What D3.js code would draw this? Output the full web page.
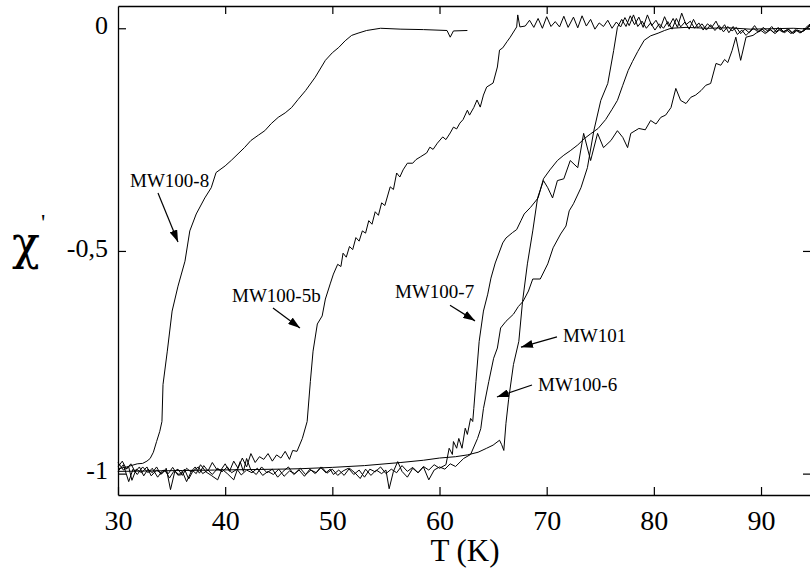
<!DOCTYPE html>
<html>
<head>
<meta charset="utf-8">
<script src="https://cdn.jsdelivr.net/npm/d3@7"></script>
<style>
  html, body { margin: 0; padding: 0; background: #fff; }
  svg { display: block; }
  text { font-family: "Liberation Serif", "Times New Roman", serif; fill: #000; }
</style>
</head>
<body>
<svg id="chart" width="810" height="570"></svg>
<script>
// ---------- data ----------
const xTicks = [30, 40, 50, 60, 70, 80, 90];
const yTicks = [0, -0.5, -1];
const yTickLabels = ["0", "-0,5", "-1"];
const xTitle = "T (K)";
const yTitle = "χ";

const mw100_8 = [
  [30.0,-0.989],[30.8,-0.985],[31.8,-0.978],[32.3,-0.977],[32.7,-0.972],[33.0,-0.966],[33.3,-0.952],
  [33.6,-0.928],[33.9,-0.905],[34.1,-0.883],[34.2,-0.800],[34.6,-0.725],[35.05,-0.635],[35.6,-0.579],
  [36.25,-0.523],[36.7,-0.455],[37.3,-0.417],[38.1,-0.381],[38.7,-0.358],[39.15,-0.324],[40.0,-0.309],
  [40.6,-0.296],[41.2,-0.282],[41.8,-0.268],[42.4,-0.252],[43.1,-0.240],[43.7,-0.230],[44.3,-0.214],
  [44.95,-0.200],[45.6,-0.190],[46.2,-0.178],[46.8,-0.160],[47.5,-0.140],[48.4,-0.110],[49.35,-0.072],
  [50.0,-0.055],[50.6,-0.043],[51.2,-0.028],[51.8,-0.016],[52.4,-0.011],[53.2,-0.005],[54.5,0.0],
  [56.4,-0.002],[58.5,-0.003],[60.7,-0.005],[61.0,-0.020],[61.3,-0.006],[62.6,-0.005]
];

const mw100_5b = [
  [30.0,-0.985],[30.4,-0.972],[30.8,-0.990],[31.2,-0.978],[31.6,-0.996],[32.0,-0.985],[32.4,-1.005],
  [32.8,-0.990],[33.2,-0.998],[33.6,-0.985],[34.0,-1.002],[34.4,-0.992],[34.8,-1.010],[35.2,-0.995],
  [35.6,-0.990],[36.0,-1.004],[36.4,-0.988],[36.8,-0.996],[37.2,-0.985],[37.6,-0.999],[38.0,-0.982],
  [38.4,-0.994],[38.8,-0.975],[39.2,-0.990],[39.6,-0.992],[40.0,-0.978],[40.4,-0.995],[40.8,-0.972],
  [41.2,-0.988],[41.6,-0.965],[42.0,-0.985],[42.4,-0.955],[42.8,-0.975],[43.2,-0.962],[43.6,-0.968],
  [44.0,-0.955],[44.4,-0.972],[44.8,-0.958],[45.2,-0.965],[45.6,-0.950],[46.0,-0.968],[46.3,-0.948],
  [46.7,-0.950],[47.2,-0.921],[47.65,-0.883],[47.95,-0.793],[48.2,-0.725],[48.6,-0.664],[49.05,-0.646],
  [49.35,-0.608],[49.8,-0.574],[50.1,-0.552],[50.5,-0.530],[50.8,-0.535],[51.0,-0.505],[51.3,-0.514],
  [51.6,-0.490],[51.9,-0.497],[52.2,-0.470],[52.5,-0.478],[52.8,-0.455],[53.1,-0.460],[53.4,-0.432],
  [53.7,-0.440],[54.0,-0.412],[54.3,-0.420],[54.6,-0.392],[54.9,-0.398],[55.4,-0.356],[55.7,-0.362],
  [56.0,-0.325],[56.3,-0.334],[56.6,-0.318],[57.0,-0.303],[57.5,-0.303],[57.8,-0.295],[58.2,-0.289],
  [58.8,-0.280],[59.1,-0.267],[59.4,-0.272],[59.8,-0.258],[60.3,-0.244],[60.6,-0.250],[61.0,-0.235],
  [61.3,-0.222],[61.6,-0.226],[61.9,-0.213],[62.2,-0.205],[62.6,-0.184],[62.8,-0.195],[63.2,-0.178],
  [63.5,-0.161],[63.8,-0.177],[64.1,-0.150],[64.4,-0.132],[65.0,-0.123],[65.4,-0.087],[65.6,-0.049],
  [65.9,-0.044],[66.3,-0.030],[66.6,-0.020],[67.2,0.003],[67.3,0.030],[67.5,0.003],
  [68.0,0.005],[68.4,0.018],[68.8,0.002],[69.2,0.022],[69.6,0.000],[70.0,0.026],[70.4,0.004],
  [70.8,0.015],[71.2,0.003],[71.6,0.027],[72.0,0.002],[72.5,0.025],[72.9,0.001],[73.3,0.028],
  [73.7,0.005],[74.1,0.020],[74.5,-0.002],[74.9,0.012],[75.3,0.004],[75.7,0.018],[76.1,0.000],
  [76.5,0.014],[76.9,0.003],[77.3,0.024],[77.7,0.006],[78.1,0.030],[78.5,0.004],[78.9,0.016],
  [79.3,0.000],[79.7,0.012],[80.1,-0.004],[80.5,0.010],[80.9,0.000],[81.3,0.015],[81.7,-0.002],
  [82.1,0.022],[82.5,0.003],[82.9,0.014],[83.3,-0.002],[83.7,0.020],[84.1,0.001],[84.5,0.010],
  [84.9,-0.004],[85.3,0.008],[85.7,-0.005],[86.1,0.006],[86.5,-0.008],[86.9,0.004],[87.3,-0.006],
  [87.7,0.002],[88.1,-0.012],[88.5,-0.002],[88.9,-0.010],[89.3,0.000],[89.7,-0.008],[90.1,-0.002],
  [90.5,-0.010],[90.9,-0.003],[91.3,-0.012],[91.7,-0.004],[92.1,-0.009],[92.5,-0.002],[92.9,-0.011],
  [93.3,-0.004],[93.7,-0.010],[94.1,-0.003],[94.6,0.005]
];

const mw100_7 = [
  [30.0,-0.975],[30.5,-0.992],[31.0,-0.985],[31.3,-1.015],[31.7,-0.990],[32.2,-0.998],[32.7,-0.985],
  [33.1,-1.005],[33.6,-0.992],[34.1,-1.000],[34.5,-0.988],[34.9,-1.036],[35.3,-0.995],[35.8,-1.004],
  [36.2,-0.990],[36.6,-1.012],[37.0,-0.994],[37.5,-0.985],[37.9,-1.000],[38.4,-0.992],[38.8,-1.002],
  [39.3,-0.988],[39.7,-0.996],[40.2,-0.985],[40.6,-0.998],[41.1,-0.990],[41.5,-1.003],[42.0,-0.992],
  [42.5,-0.998],[43.0,-0.988],[43.5,-1.004],[44.0,-0.995],[44.5,-1.002],[45.0,-0.990],[45.5,-1.006],
  [46.0,-0.994],[46.5,-1.000],[47.0,-0.988],[47.5,-1.002],[48.0,-0.992],[48.5,-0.998],[49.0,-0.985],
  [49.5,-0.999],[50.0,-0.990],[50.5,-1.004],[51.0,-0.994],[51.5,-0.988],[52.0,-1.002],[52.5,-0.992],
  [53.0,-1.008],[53.5,-0.990],[54.0,-0.996],[54.5,-0.985],[55.0,-1.000],[55.5,-0.990],[56.0,-0.998],
  [56.5,-0.982],[57.0,-0.995],[57.5,-0.986],[58.0,-0.998],[58.5,-0.984],[59.0,-0.992],[59.5,-0.980],
  [60.0,-0.988],[60.6,-0.980],[60.9,-0.943],[61.2,-0.957],[61.3,-0.928],[61.6,-0.943],[61.8,-0.921],
  [62.1,-0.943],[62.4,-0.898],[62.6,-0.912],[62.9,-0.876],[63.1,-0.883],[63.2,-0.854],[63.4,-0.793],
  [63.7,-0.703],[64.1,-0.635],[64.5,-0.597],[64.8,-0.561],[65.2,-0.527],[65.9,-0.482],[66.2,-0.471],
  [66.8,-0.459],[67.2,-0.452],[67.6,-0.432],[67.9,-0.417],[68.5,-0.402],[69.2,-0.381],[69.7,-0.338],
  [70.3,-0.318],[71.0,-0.297],[71.6,-0.285],[72.2,-0.275],[72.9,-0.262],[73.5,-0.248],[74.1,-0.237],
  [74.8,-0.225],[75.5,-0.205],[76.1,-0.182],[76.6,-0.162],[77.1,-0.128],[77.6,-0.095],[78.0,-0.075],
  [78.5,-0.052],[79.1,-0.027],[79.7,-0.017],[80.4,-0.011],[81.0,-0.005],[81.6,0.000],[83.0,0.002],
  [85.0,0.000],[87.0,0.001],[89.0,-0.002],[91.0,-0.001],[93.0,0.000],[94.6,-0.002]
];

const mw100_6 = [
  [30.0,-0.995],[30.5,-0.980],[31.0,-1.018],[31.4,-0.990],[31.8,-1.002],[32.3,-0.985],[32.8,-0.998],
  [33.2,-0.988],[33.7,-1.008],[34.2,-0.992],[34.7,-1.000],[35.1,-0.986],[35.6,-1.004],[36.0,-0.995],
  [36.4,-1.018],[36.9,-0.992],[37.3,-1.000],[37.7,-0.980],[38.2,-0.996],[38.7,-1.004],[39.3,-1.014],
  [39.7,-0.990],[40.2,-1.000],[40.8,-1.014],[41.4,-0.973],[41.7,-0.995],[42.0,-0.966],[42.4,-0.992],
  [42.9,-1.002],[43.4,-0.985],[43.9,-0.998],[44.4,-0.990],[44.9,-1.008],[45.4,-0.995],[45.9,-0.985],
  [46.4,-1.002],[46.9,-0.992],[47.4,-1.006],[47.9,-0.990],[48.4,-1.000],[48.9,-0.986],[49.4,-0.998],
  [49.8,-0.990],[50.1,-1.002],[50.6,-0.992],[51.1,-1.004],[51.6,-0.988],[52.1,-0.998],[52.6,-1.011],
  [53.1,-0.990],[53.6,-1.004],[54.1,-0.992],[54.6,-1.000],[55.0,-0.992],[55.3,-1.034],[55.7,-0.995],
  [56.1,-0.973],[56.5,-0.995],[57.0,-1.008],[57.5,-0.988],[58.0,-0.998],[58.5,-0.985],[59.0,-1.014],
  [59.5,-0.992],[60.0,-0.985],[60.5,-0.990],[61.0,-0.978],[61.5,-0.984],[62.0,-0.972],
  [62.25,-0.966],[62.9,-0.957],[63.55,-0.921],[63.85,-0.899],[64.1,-0.854],[64.6,-0.793],[65.05,-0.741],
  [65.4,-0.718],[65.7,-0.673],[66.2,-0.658],[66.9,-0.642],[67.35,-0.625],[67.8,-0.613],[68.3,-0.590],
  [68.7,-0.563],[69.4,-0.563],[70.1,-0.529],[70.6,-0.493],[71.3,-0.462],[71.8,-0.444],[72.1,-0.410],
  [72.5,-0.394],[73.2,-0.358],[73.8,-0.313],[74.4,-0.230],[75.05,-0.162],[75.7,-0.124],[76.25,-0.050],
  [76.6,0.002],[77.0,0.020],[77.4,0.004],[77.8,0.028],[78.2,0.008],[78.6,0.025],[79.0,0.002],
  [79.4,0.030],[79.8,0.006],[80.2,0.018],[80.6,0.000],[81.0,0.026],[81.4,0.004],[81.8,0.022],
  [82.2,0.002],[82.6,0.034],[83.0,0.008],[83.4,0.016],[83.8,0.000],[84.2,0.012],[84.6,-0.004],
  [85.0,0.010],[85.4,0.002],[85.8,0.016],[86.2,-0.004],[86.6,0.008],[87.0,-0.010],[87.4,0.004],
  [87.8,-0.014],[88.2,-0.004],[88.6,-0.016],[89.0,-0.006],[89.4,0.006],[89.8,-0.008],[90.2,0.002],
  [90.6,-0.006],[91.0,0.004],[91.4,-0.008],[91.8,0.000],[92.2,-0.010],[92.6,-0.002],[93.0,-0.012],
  [93.4,-0.004],[93.8,-0.008],[94.2,0.002],[94.6,0.010]
];

const mw101 = [
  [30.0,-0.995],[33.0,-0.994],[36.0,-0.993],[39.0,-0.992],[42.0,-0.991],[45.0,-0.990],[47.0,-0.989],
  [50.0,-0.986],[53.0,-0.982],[56.4,-0.975],[58.5,-0.970],[60.0,-0.965],[61.5,-0.962],[62.6,-0.958],
  [63.6,-0.952],[64.4,-0.943],[65.0,-0.936],[65.6,-0.925],[65.8,-0.935],[66.0,-0.948],
  [66.2,-0.887],[66.45,-0.833],[66.9,-0.755],[67.4,-0.703],[67.75,-0.613],[68.2,-0.529],[68.7,-0.455],
  [69.15,-0.381],[69.7,-0.342],[70.1,-0.358],[70.55,-0.381],[71.0,-0.342],[71.6,-0.338],[72.2,-0.297],
  [72.9,-0.313],[73.45,-0.236],[74.1,-0.297],[74.75,-0.236],[75.3,-0.268],[76.0,-0.252],[76.6,-0.230],
  [77.1,-0.245],[77.55,-0.268],[77.85,-0.236],[78.6,-0.225],[79.2,-0.228],[79.7,-0.207],[80.2,-0.215],
  [80.65,-0.200],[81.1,-0.195],[81.6,-0.178],[82.05,-0.135],[82.5,-0.162],[83.0,-0.169],[83.45,-0.155],
  [83.9,-0.150],[84.4,-0.140],[84.85,-0.128],[85.3,-0.124],[85.8,-0.079],[86.25,-0.083],[86.6,-0.070],
  [86.9,-0.077],[87.3,-0.050],[87.65,-0.020],[88.1,-0.072],[88.6,-0.020],[89.25,-0.016],[89.6,-0.010],
  [90.0,-0.005],[90.4,-0.012],[90.8,-0.002],[91.2,-0.010],[91.6,0.002],[92.0,-0.008],[92.4,-0.004],
  [92.8,-0.012],[93.2,-0.003],[93.6,-0.010],[94.0,-0.006],[94.6,0.008]
];

const seriesList = [mw100_8, mw100_5b, mw100_7, mw100_6, mw101];

// annotations: label text, label anchor, arrow tail, arrow head (data units)
const labelNames = ["MW100-8", "MW100-5b", "MW100-7", "MW101", "MW100-6"];
const labelPos   = [[31.12,-0.356],[40.64,-0.615],[55.85,-0.606],[71.52,-0.705],[69.19,-0.815]];
const arrowFrom  = [[33.73,-0.370],[44.46,-0.628],[60.98,-0.622],[70.96,-0.693],[68.63,-0.801]];
const arrowTo    = [[35.60,-0.480],[46.98,-0.673],[63.31,-0.657],[67.60,-0.716],[65.36,-0.828]];

// ---------- chart ----------
const svg = d3.select("#chart");
const x = d3.scaleLinear().domain([30, 94.57]).range([118, 810]);
const y = d3.scaleLinear().domain([0.05, -1.048]).range([6, 495]);

const fmt = d => yTickLabels[yTicks.indexOf(d)];

// bottom axis
const gB = svg.append("g").attr("transform", `translate(0,${y.range()[1]})`)
  .call(d3.axisBottom(x).tickValues(xTicks).tickSizeInner(-8).tickSizeOuter(0).tickPadding(15).tickFormat(d3.format("d")));
// top axis
const gT = svg.append("g").attr("transform", `translate(0,${y.range()[0]})`)
  .call(d3.axisTop(x).tickValues(xTicks.slice(1)).tickSizeInner(-8).tickSizeOuter(0).tickFormat(""));
// left axis
const gL = svg.append("g").attr("transform", `translate(${x.range()[0]},0)`)
  .call(d3.axisLeft(y).tickValues(yTicks).tickSizeInner(-8).tickSizeOuter(0).tickPadding(10).tickFormat(fmt));
// right axis (ticks only)
const gR = svg.append("g").attr("transform", `translate(${x.range()[1]},0)`)
  .call(d3.axisRight(y).tickValues(yTicks).tickSizeInner(-7).tickSizeOuter(0).tickFormat(""));
gR.select(".domain").remove();

svg.selectAll(".domain").attr("stroke", "#000").attr("stroke-width", 1.3);
svg.selectAll(".tick line").attr("stroke", "#000").attr("stroke-width", 1.2);
gB.selectAll(".tick text").attr("font-size", 28).attr("fill", "#000");
gL.selectAll(".tick text").attr("font-size", 26).attr("fill", "#000").attr("dy", "0.2em");

// curves
const line = d3.line().x(d => x(d[0])).y(d => y(d[1]));
svg.append("g").selectAll("path").data(seriesList).join("path")
  .attr("d", line)
  .attr("fill", "none")
  .attr("stroke", "#000")
  .attr("stroke-width", 1)
  .attr("stroke-linejoin", "round");

// arrow marker
svg.append("defs").append("marker")
  .attr("id", "ah").attr("markerUnits", "userSpaceOnUse")
  .attr("viewBox", "0 0 12 8").attr("refX", 12).attr("refY", 4)
  .attr("markerWidth", 12).attr("markerHeight", 8).attr("orient", "auto")
  .append("path").attr("d", "M0,0 L12,4 L0,8 Z").attr("fill", "#000");

const ann = svg.append("g");
labelNames.forEach((name, i) => {
  ann.append("text")
    .attr("x", x(labelPos[i][0])).attr("y", y(labelPos[i][1]))
    .attr("font-size", 19).text(name);
  ann.append("line")
    .attr("x1", x(arrowFrom[i][0])).attr("y1", y(arrowFrom[i][1]))
    .attr("x2", x(arrowTo[i][0])).attr("y2", y(arrowTo[i][1]))
    .attr("stroke", "#000").attr("stroke-width", 1.2)
    .attr("marker-end", "url(#ah)");
});

// axis titles
svg.append("text")
  .attr("x", 465).attr("y", 561)
  .attr("text-anchor", "middle").attr("font-size", 31).text(xTitle);

const yt = svg.append("text").attr("x", 12).attr("y", 259)
  .style("font-family", "'DejaVu Serif', serif").attr("font-size", 46);
yt.append("tspan").text(yTitle);
yt.append("tspan").attr("font-size", 24).attr("dy", "-1.2em").attr("dx", "1")
  .style("font-family", "'Liberation Serif', serif").text("'");
</script>
</body>
</html>
